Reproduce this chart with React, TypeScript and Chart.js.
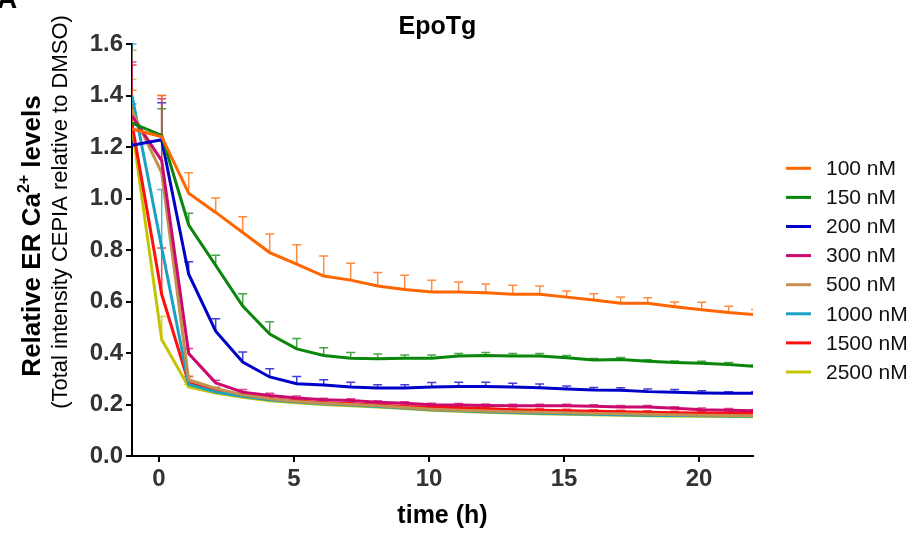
import React, { useEffect, useRef } from "react";
import { Chart, registerables } from "chart.js";

Chart.register(...registerables);

const FONT = '"Liberation Sans", Arial, Helvetica, sans-serif';

// time points (h)
const TIMES = [-1, 0.1, 1.1, 2.1, 3.1, 4.1, 5.1, 6.1, 7.1, 8.1, 9.1, 10.1, 11.1, 12.1, 13.1, 14.1, 15.1, 16.1, 17.1, 18.1, 19.1, 20.1, 21.1, 22.1];

const LABELS = ["100 nM", "150 nM", "200 nM", "300 nM", "500 nM", "1000 nM", "1500 nM", "2500 nM"];
const COLORS = ["#FF6600", "#0A870A", "#0000C8", "#CC0A6E", "#C49050", "#1AA2C2", "#FF1010", "#C4C400"];

// means
const M100 = [1.27, 1.24, 1.02, 0.946, 0.868, 0.79, 0.745, 0.699, 0.683, 0.66, 0.647, 0.637, 0.637, 0.634, 0.628, 0.628, 0.617, 0.606, 0.593, 0.593, 0.58, 0.568, 0.557, 0.549];
const M150 = [1.293, 1.245, 0.897, 0.74, 0.582, 0.474, 0.416, 0.39, 0.38, 0.378, 0.38, 0.38, 0.388, 0.39, 0.388, 0.388, 0.382, 0.373, 0.375, 0.368, 0.363, 0.36, 0.355, 0.348];
const M200 = [1.207, 1.228, 0.706, 0.485, 0.365, 0.307, 0.281, 0.276, 0.268, 0.264, 0.264, 0.268, 0.27, 0.27, 0.268, 0.265, 0.26, 0.256, 0.255, 0.25, 0.248, 0.245, 0.244, 0.244];
const M300 = [1.32, 1.147, 0.398, 0.284, 0.248, 0.235, 0.225, 0.218, 0.216, 0.209, 0.205, 0.199, 0.198, 0.196, 0.195, 0.195, 0.195, 0.193, 0.19, 0.19, 0.185, 0.18, 0.178, 0.175];
const M500 = [1.34, 1.1, 0.296, 0.262, 0.238, 0.222, 0.212, 0.205, 0.2, 0.195, 0.188, 0.182, 0.178, 0.175, 0.172, 0.17, 0.168, 0.165, 0.164, 0.162, 0.16, 0.158, 0.157, 0.156];
const M1000 = [1.4, 0.81, 0.278, 0.248, 0.232, 0.218, 0.21, 0.203, 0.198, 0.192, 0.186, 0.18, 0.176, 0.172, 0.169, 0.166, 0.164, 0.162, 0.16, 0.158, 0.157, 0.156, 0.155, 0.154];
const M1500 = [1.29, 0.628, 0.283, 0.255, 0.238, 0.222, 0.214, 0.207, 0.203, 0.198, 0.192, 0.19, 0.187, 0.184, 0.18, 0.178, 0.176, 0.174, 0.172, 0.17, 0.168, 0.167, 0.166, 0.165];
const M2500 = [1.28, 0.452, 0.268, 0.245, 0.228, 0.215, 0.207, 0.2, 0.195, 0.19, 0.184, 0.178, 0.174, 0.17, 0.167, 0.164, 0.162, 0.16, 0.158, 0.156, 0.155, 0.154, 0.153, 0.152];

// upper error (SEM)
const E100 = [0.15, 0.16, 0.08, 0.056, 0.061, 0.072, 0.075, 0.078, 0.066, 0.053, 0.055, 0.046, 0.039, 0.034, 0.035, 0.032, 0.024, 0.024, 0.024, 0.022, 0.018, 0.029, 0.025, 0.02];
const E150 = [0.074, 0.104, 0.046, 0.04, 0.048, 0.047, 0.04, 0.03, 0.022, 0.018, 0.012, 0.012, 0.01, 0.012, 0.01, 0.01, 0.008, 0.006, 0.008, 0.006, 0.006, 0.008, 0.008, 0.006];
const E200 = [0.086, 0.144, 0.048, 0.048, 0.039, 0.032, 0.028, 0.02, 0.018, 0.013, 0.013, 0.017, 0.016, 0.016, 0.015, 0.015, 0.012, 0.01, 0.01, 0.01, 0.01, 0.008, 0.006, 0.006];
const E300 = [0.21, 0.24, 0.019, 0.01, 0.01, 0.009, 0.008, 0.006, 0.006, 0.006, 0.006, 0.006, 0.006, 0.006, 0.006, 0.006, 0.006, 0.006, 0.006, 0.006, 0.006, 0.006, 0.006, 0.006];
const E500 = [0.236, 0.3, 0.015, 0.006, 0.005, 0.005, 0.005, 0.005, 0.005, 0.005, 0.005, 0.005, 0.005, 0.005, 0.005, 0.005, 0.005, 0.005, 0.005, 0.005, 0.005, 0.005, 0.005, 0.005];
const E1000 = [0.2, 0.225, 0.01, 0.004, 0.004, 0.004, 0.004, 0.004, 0.004, 0.004, 0.004, 0.004, 0.004, 0.004, 0.004, 0.004, 0.004, 0.004, 0.004, 0.004, 0.004, 0.004, 0.004, 0.004];
const E1500 = [0.228, 0.18, 0.025, 0.01, 0.006, 0.006, 0.006, 0.006, 0.006, 0.006, 0.006, 0.006, 0.006, 0.006, 0.006, 0.006, 0.006, 0.006, 0.006, 0.006, 0.006, 0.006, 0.006, 0.006];
const E2500 = [0.183, 0.09, 0.01, 0.004, 0.004, 0.004, 0.004, 0.004, 0.004, 0.004, 0.004, 0.004, 0.004, 0.004, 0.004, 0.004, 0.004, 0.004, 0.004, 0.004, 0.004, 0.004, 0.004, 0.004];

const MEANS = [M100, M150, M200, M300, M500, M1000, M1500, M2500];
const ERRS = [E100, E150, E200, E300, E500, E1000, E1500, E2500];

const X_TICKS = [0, 5, 10, 15, 20];
const Y_TICKS = [0, 0.2, 0.4, 0.6, 0.8, 1.0, 1.2, 1.4, 1.6];

const TITLE = "EpoTg";
const X_TITLE = "time (h)";
const Y_TITLE_1 = ["Relative ER Ca", "2+", " levels"];
const Y_TITLE_2 = "(Total intensity CEPIA relative to DMSO)";

function hexA(hex: string, a: number) {
  const n = parseInt(hex.slice(1), 16);
  return `rgba(${(n >> 16) & 255},${(n >> 8) & 255},${n & 255},${a})`;
}

const errorBarPlugin = {
  id: "errorBars",
  beforeDatasetsDraw(chart: any) {
    const { ctx, chartArea: ca } = chart;
    const xs = chart.scales.x;
    const ys = chart.scales.y;
    ctx.save();
    ctx.beginPath();
    ctx.rect(ca.left, ca.top - 2, ca.right - ca.left, ca.bottom - ca.top + 2);
    ctx.clip();
    for (let i = MEANS.length - 1; i >= 0; i--) {
      ctx.strokeStyle = hexA(COLORS[i], 0.75);
      ctx.lineWidth = 1.5;
      for (let j = 0; j < TIMES.length; j++) {
        const x = xs.getPixelForValue(TIMES[j]);
        const y0 = ys.getPixelForValue(MEANS[i][j]);
        const y1 = ys.getPixelForValue(MEANS[i][j] + ERRS[i][j]);
        ctx.beginPath();
        ctx.moveTo(x, y0);
        ctx.lineTo(x, y1);
        ctx.moveTo(x - 4.5, y1);
        ctx.lineTo(x + 4.5, y1);
        ctx.stroke();
      }
    }
    ctx.restore();
  },
};

const decorPlugin = {
  id: "decor",
  afterDraw(chart: any) {
    const { ctx, chartArea: ca } = chart;
    ctx.save();
    // panel letter (clipped at top)
    ctx.fillStyle = "#000";
    ctx.font = `bold 28px ${FONT}`;
    ctx.textAlign = "left";
    ctx.textBaseline = "alphabetic";
    ctx.fillText("A", -3, 8);

    // title
    ctx.font = `bold 25px ${FONT}`;
    ctx.textAlign = "center";
    ctx.textBaseline = "middle";
    ctx.fillText(TITLE, (ca.left + ca.right) / 2 - 5, 27);

    // y title line 1 (bold, with superscript)
    ctx.save();
    ctx.translate(31, 236);
    ctx.rotate(-Math.PI / 2);
    ctx.textAlign = "left";
    ctx.textBaseline = "alphabetic";
    const big = `bold 26px ${FONT}`;
    const sup = `bold 16px ${FONT}`;
    ctx.font = big;
    const w0 = ctx.measureText(Y_TITLE_1[0]).width;
    const w2 = ctx.measureText(Y_TITLE_1[2]).width;
    ctx.font = sup;
    const w1 = ctx.measureText(Y_TITLE_1[1]).width;
    let x = -(w0 + w1 + w2) / 2;
    ctx.font = big;
    ctx.fillText(Y_TITLE_1[0], x, 9);
    x += w0;
    ctx.font = sup;
    ctx.fillText(Y_TITLE_1[1], x, -2);
    x += w1;
    ctx.font = big;
    ctx.fillText(Y_TITLE_1[2], x, 9);
    ctx.restore();

    // y title line 2
    ctx.save();
    ctx.translate(59, 212);
    ctx.rotate(-Math.PI / 2);
    ctx.textAlign = "center";
    ctx.textBaseline = "alphabetic";
    ctx.font = `22px ${FONT}`;
    ctx.fillText(Y_TITLE_2, 0, 8);
    ctx.restore();

    // legend
    ctx.font = `21px ${FONT}`;
    ctx.textAlign = "left";
    ctx.textBaseline = "middle";
    for (let i = 0; i < LABELS.length; i++) {
      const y = 168.3 + i * 29.1;
      ctx.strokeStyle = COLORS[i];
      ctx.lineWidth = 3;
      ctx.beginPath();
      ctx.moveTo(786, y);
      ctx.lineTo(811, y);
      ctx.stroke();
      ctx.fillStyle = "#111";
      ctx.fillText(LABELS[i], 826, y + 1);
    }
    ctx.restore();
  },
};

export default function App() {
  const ref = useRef<HTMLCanvasElement | null>(null);

  useEffect(() => {
    if (!ref.current) return;
    const datasets = MEANS.map((m, i) => ({
      label: LABELS[i],
      data: TIMES.map((t, j) => ({ x: t, y: m[j] })),
      borderColor: COLORS[i],
      backgroundColor: COLORS[i],
      borderWidth: 3,
      pointRadius: 0,
      tension: 0,
      fill: false,
    }));

    const chart = new Chart(ref.current, {
      type: "line",
      data: { datasets },
      options: {
        animation: false,
        responsive: false,
        devicePixelRatio: 1,
        layout: { padding: { left: 0, right: 163, top: 44, bottom: 0 } },
        plugins: {
          legend: { display: false },
          title: { display: false },
          tooltip: { enabled: false },
        },
        scales: {
          x: {
            type: "linear",
            min: -1,
            max: 22,
            afterBuildTicks: (s: any) => {
              s.ticks = X_TICKS.map((v) => ({ value: v }));
            },
            afterFit: (s: any) => {
              s.height = 78;
            },
            ticks: {
              font: { family: FONT, size: 24, weight: "bold" },
              color: "#333",
              padding: 3,
              maxRotation: 0,
              autoSkip: false,
            },
            grid: { drawOnChartArea: false, drawTicks: true, tickLength: 6, color: "#000", lineWidth: 2 },
            border: { display: true, color: "#000", width: 2 },
            title: {
              display: true,
              text: X_TITLE,
              color: "#000",
              font: { family: FONT, size: 25, weight: "bold" },
              padding: { top: 2, bottom: 3 },
            },
          },
          y: {
            type: "linear",
            min: 0,
            max: 1.6,
            afterBuildTicks: (s: any) => {
              s.ticks = Y_TICKS.map((v) => ({ value: v }));
            },
            afterFit: (s: any) => {
              s.width = 132;
            },
            ticks: {
              font: { family: FONT, size: 24, weight: "bold" },
              color: "#333",
              padding: 3,
              autoSkip: false,
              callback: (v: any) => Number(v).toFixed(1),
            },
            grid: { drawOnChartArea: false, drawTicks: true, tickLength: 6, color: "#000", lineWidth: 2 },
            border: { display: true, color: "#000", width: 2 },
          },
        },
      } as any,
      plugins: [errorBarPlugin, decorPlugin],
    });
    return () => chart.destroy();
  }, []);

  return (
    <div style={{ position: "fixed", left: 0, top: 0, width: 916, height: 534, background: "#fff" }}>
      <canvas ref={ref} width={916} height={534} style={{ width: 916, height: 534, display: "block" }} />
    </div>
  );
}
